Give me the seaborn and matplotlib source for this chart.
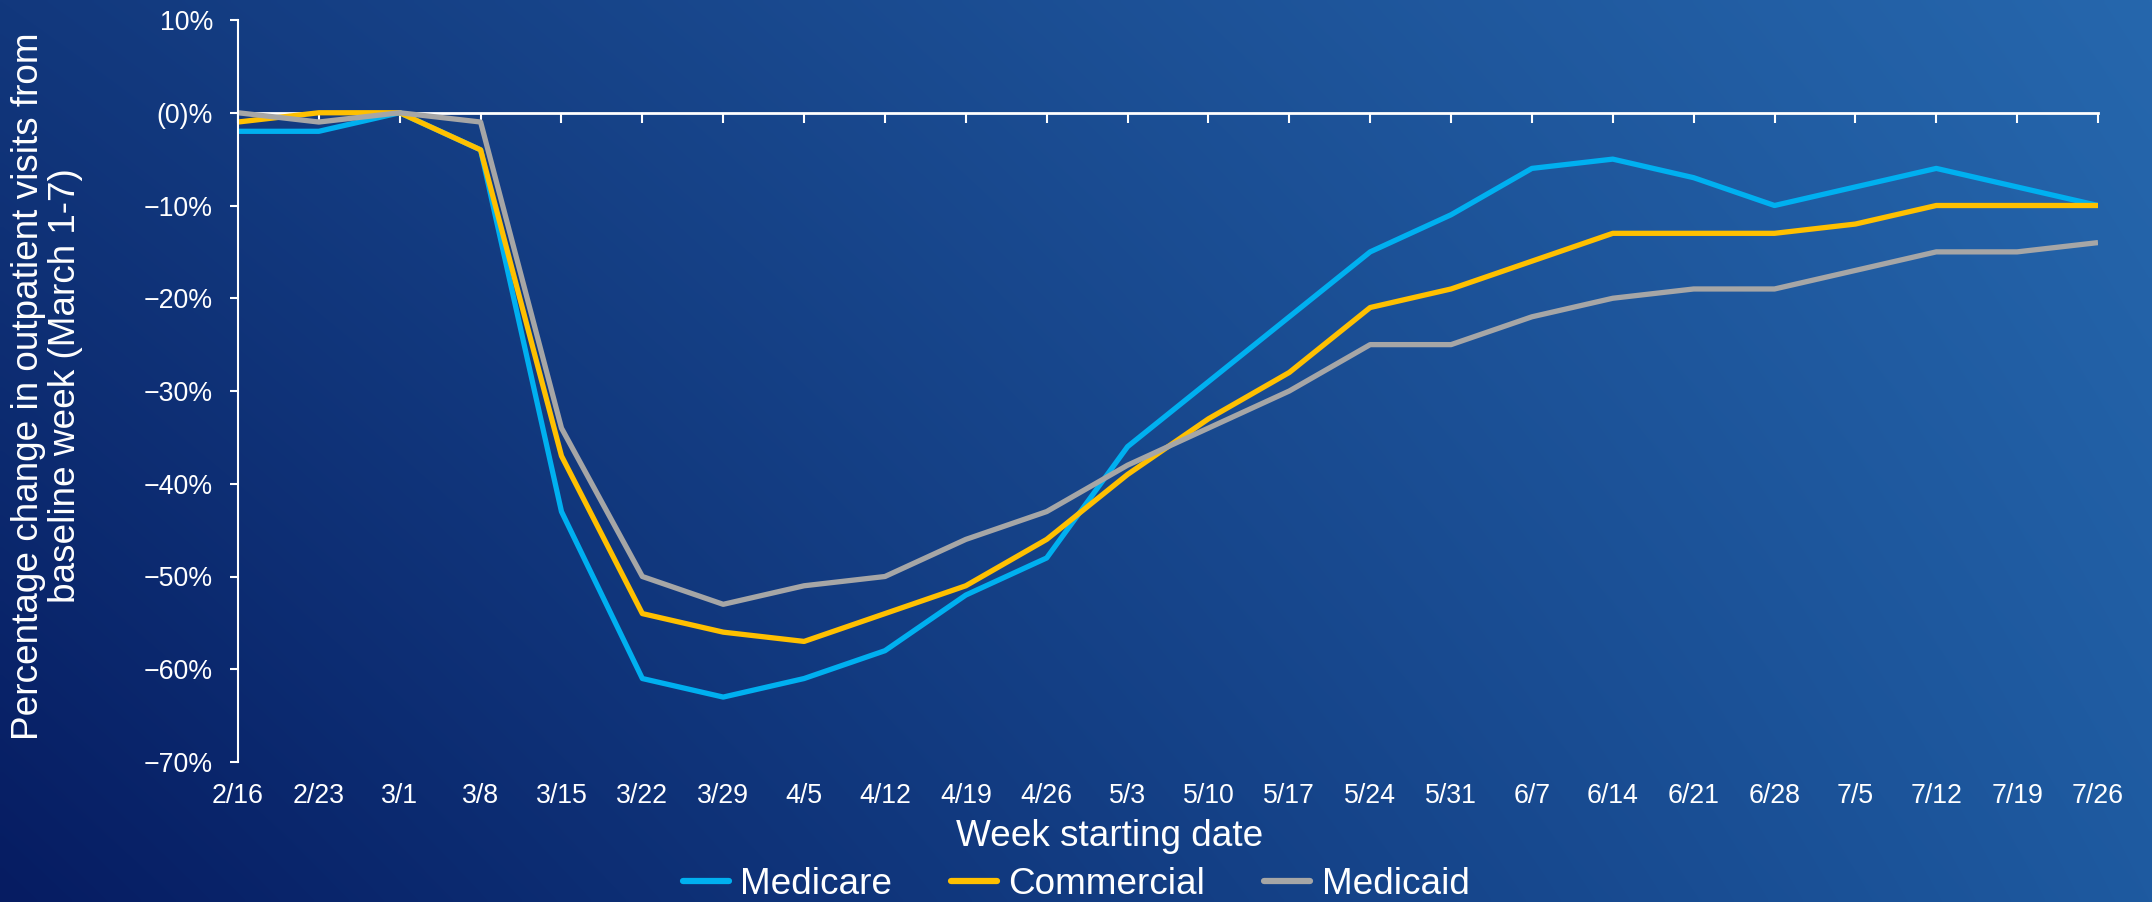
import numpy as np
import pandas as pd
import matplotlib
matplotlib.use("Agg")
import matplotlib.pyplot as plt
import seaborn as sns

# Weekly percentage change in outpatient visits vs. baseline week (March 1-7)
weeks = ["2/16", "2/23", "3/1", "3/8", "3/15", "3/22", "3/29", "4/5", "4/12",
         "4/19", "4/26", "5/3", "5/10", "5/17", "5/24", "5/31", "6/7", "6/14",
         "6/21", "6/28", "7/5", "7/12", "7/19", "7/26"]
medicare = [-2, -2, 0, -4, -43, -61, -63, -61, -58, -52, -48, -36, -29, -22,
            -15, -11, -6, -5, -7, -10, -8, -6, -8, -10]
commercial = [-1, 0, 0, -4, -37, -54, -56, -57, -54, -51, -46, -39, -33, -28,
              -21, -19, -16, -13, -13, -13, -12, -10, -10, -10]
medicaid = [0, -1, 0, -1, -34, -50, -53, -51, -50, -46, -43, -38, -34, -30,
            -25, -25, -22, -20, -19, -19, -17, -15, -15, -14]
series_names = ["Medicare", "Commercial", "Medicaid"]
series_colors = ["#00b0f0", "#ffc000", "#a6a6a6"]
y_ticks = [10, 0, -10, -20, -30, -40, -50, -60, -70]
y_tick_labels = ["10%", "(0)%", "\u221210%", "\u221220%", "\u221230%",
                 "\u221240%", "\u221250%", "\u221260%", "\u221270%"]

df = pd.DataFrame({"week": weeks, "Medicare": medicare,
                   "Commercial": commercial, "Medicaid": medicaid})
df["idx"] = np.arange(len(weeks))
long = df.melt(id_vars=["week", "idx"], value_vars=series_names,
               var_name="Payer", value_name="change")

sns.set_theme(style="white")
plt.rcParams["font.family"] = ["Liberation Sans", "DejaVu Sans"]

fig = plt.figure(figsize=(21.52, 9.02), dpi=100)

# Diagonal blue gradient background
bg = fig.add_axes([0, 0, 1, 1], zorder=-10)
tl = np.array([0x12, 0x38, 0x7d]) / 255
tr = np.array([0x26, 0x67, 0xad]) / 255
bl = np.array([0x06, 0x1c, 0x62]) / 255
br = np.array([0x1e, 0x5a, 0xa0]) / 255
u = np.linspace(0, 1, 400)[None, :, None]
v = np.linspace(0, 1, 200)[:, None, None]
grad = (1 - v) * ((1 - u) * tl + u * tr) + v * ((1 - u) * bl + u * br)
bg.imshow(grad, aspect="auto", extent=[0, 1, 0, 1], interpolation="bilinear")
bg.set_axis_off()

ax = fig.add_axes([238 / 2152, 1 - 762 / 902, (2098 - 238) / 2152, (762 - 20) / 902])
ax.patch.set_alpha(0)

sns.lineplot(data=long, x="idx", y="change", hue="Payer", hue_order=series_names,
             palette=series_colors, linewidth=3.8, ax=ax, legend=False,
             solid_capstyle="butt")

ax.set_xlim(0, len(weeks) - 1)
ax.set_ylim(-70, 10)
ax.set_xticks(df["idx"])
ax.set_xticklabels(weeks)
ax.set_yticks(y_ticks)
ax.set_yticklabels(y_tick_labels)

white = "#ffffff"
for side in ["top", "right", "bottom"]:
    ax.spines[side].set_visible(False)
ax.spines["left"].set_color(white)
ax.spines["left"].set_linewidth(1.5)
ax.tick_params(axis="y", colors=white, labelsize=19.3, length=6, width=1.5,
               direction="out", pad=12, left=True)
ax.tick_params(axis="x", colors=white, labelsize=19.3, length=0, pad=15,
               bottom=True)

# Zero baseline with downward tick marks
zero_axis = ax.secondary_xaxis(0, transform=ax.transData)
zero_axis.set_xticks(df["idx"])
zero_axis.set_xticklabels([])
zero_axis.spines["bottom"].set_color(white)
zero_axis.spines["bottom"].set_linewidth(2)
zero_axis.tick_params(axis="x", colors=white, length=7, width=1.5, direction="out")
for s in ["top", "left", "right"]:
    zero_axis.spines[s].set_visible(False)

ax.set_xlabel("")
ax.set_ylabel("")
fig.text(1110 / 2152, 1 - 837 / 902, "Week starting date", color=white,
         fontsize=26.6, ha="center", va="center")
fig.text(47 / 2152, 1 - 386 / 902,
         "Percentage change in outpatient visits from\nbaseline week (March 1-7)",
         color=white, fontsize=26.6, rotation=90, ha="center", va="center",
         multialignment="center", linespacing=1.05)

handles = [plt.Line2D([], [], color=c, linewidth=4.5) for c in series_colors]
leg = fig.legend(handles, series_names, loc="center", ncol=3,
                 bbox_to_anchor=(0.5, 1 - 884 / 902), frameon=False,
                 fontsize=26.6, handlelength=1.25, handletextpad=0.3,
                 columnspacing=1.6, labelcolor=white)

fig.savefig("out.png", dpi=100)
